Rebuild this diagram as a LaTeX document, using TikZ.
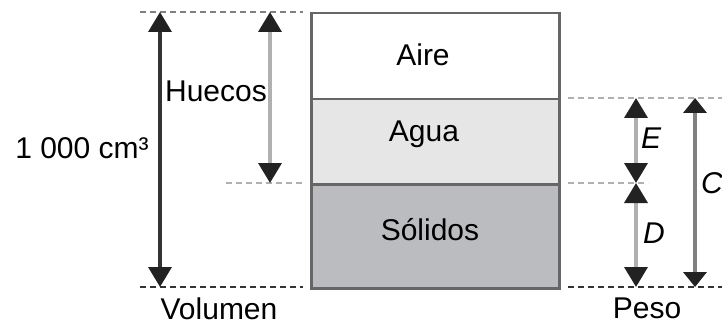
\documentclass[tikz,border=0pt]{standalone}
\usepackage{fontspec}
\setmainfont{Liberation Sans}
\usetikzlibrary{arrows.meta}
\definecolor{boxgray}{HTML}{666666}
\definecolor{aguafill}{HTML}{E6E6E6}
\definecolor{solfill}{HTML}{BBBCBF}
\definecolor{darkline}{HTML}{333333}
\definecolor{midline}{HTML}{808080}
\definecolor{lightline}{HTML}{B0B0B0}
\definecolor{tipc}{HTML}{222222}
\begin{document}
\begin{tikzpicture}[x=1pt,y=-1pt,
  layer/.style={draw=boxgray, line width=2.5pt, minimum width=248pt, inner sep=0pt, anchor=north west},
  lab/.style={font=\fontsize{30}{36}\selectfont, inner sep=0pt, text=black},
  guide/.style={line width=2.6pt, dash pattern=on 6pt off 4pt},
  dimarrow/.style={line width=3.5pt, {Triangle[width=23pt,length=20pt,color=tipc]}-{Triangle[width=23pt,length=20pt,color=tipc]}},
  dimarrowC/.style={line width=3.5pt, {Triangle[width=23pt,length=15pt,color=tipc]}-{Triangle[width=23pt,length=15pt,color=tipc]}}
]
\useasboundingbox (0,0) rectangle (722,326);

% layers
\node[layer, fill=white, minimum height=86pt] (aire) at (310,12) {};
\node[layer, fill=aguafill, minimum height=85pt] (agua) at (310,98) {};
\node[layer, fill=solfill, minimum height=104pt] (solidos) at (310,183) {};

\node[lab] (taire) at (423,55) {Aire};
\node[lab] (tagua) at (424,134) {Agua};
\node[lab] (tsol) at (430,230) {Sólidos};

% guide coordinates
\coordinate (lt1) at (140,12);  \coordinate (lt2) at (303,12);
\coordinate (lb1) at (140,287); \coordinate (lb2) at (303,287);
\coordinate (lm1) at (226,183); \coordinate (lm2) at (305,183);
\coordinate (rt1) at (568,98);  \coordinate (rt2) at (722,98);
\coordinate (rm1) at (568,183); \coordinate (rm2) at (648,183);
\coordinate (rb1) at (568,287); \coordinate (rb2) at (722,287);

\draw[guide, draw=midline] (lt1) -- (lt2);
\draw[guide, draw=darkline] (lb1) -- (lb2);
\draw[guide, draw=lightline] (lm1) -- (lm2);
\draw[guide, draw=lightline] (rt1) -- (rt2);
\draw[guide, draw=lightline] (rm1) -- (rm2);
\draw[guide, draw=darkline] (rb1) -- (rb2);

% arrows
\coordinate (vt) at (160,12);  \coordinate (vb) at (160,287);
\coordinate (ht) at (270,12);  \coordinate (hb) at (270,183);
\coordinate (et) at (636,98);  \coordinate (em) at (636,183); \coordinate (eb) at (636,287);
\coordinate (ct) at (695,98);  \coordinate (cb) at (695,287);

\draw[dimarrow, draw=darkline] (vt) -- (vb);
\draw[dimarrow, draw=lightline] (ht) -- (hb);
\draw[dimarrow, draw=lightline] (et) -- (em);
\draw[dimarrow, draw=lightline] (em) -- (eb);
\draw[dimarrowC, draw=midline] (ct) -- (cb);

% labels
\node[lab] (vol) at (82,148) {1 000 cm³};
\node[lab] (huecos) at (216,91) {Huecos};
\node[lab, anchor=north] (volumen) at (219,298) {Volumen};
\node[lab, anchor=north] (peso) at (647,298) {Peso};
\node[lab, font=\fontsize{30}{36}\selectfont\itshape] (E) at (651,138) {E};
\node[lab, font=\fontsize{30}{36}\selectfont\itshape] (D) at (654,233) {D};
\node[lab, font=\fontsize{30}{36}\selectfont\itshape, anchor=west] (C) at (701,183) {C};
\end{tikzpicture}
\end{document}
